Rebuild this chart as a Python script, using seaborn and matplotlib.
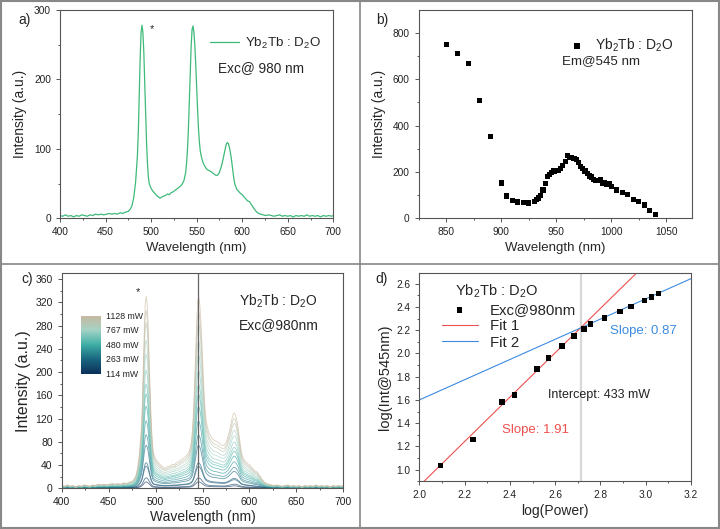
import numpy as np
import pandas as pd
import seaborn as sns
import matplotlib.pyplot as plt
from matplotlib.colors import LinearSegmentedColormap
from matplotlib.ticker import MultipleLocator
from matplotlib.patches import Rectangle

# a) emission spectrum, Exc@980 nm
wl_a = [400, 403, 406, 409, 412, 415, 418, 421, 424, 427, 430, 433, 436, 439, 442, 445, 448, 451,
        454, 457, 460, 463, 466, 469, 472, 475, 477, 479, 481, 483, 485, 486, 487, 488, 489, 490,
        491, 492, 493, 494, 495, 496, 497, 498, 500, 502, 504, 506, 508, 510, 512, 514, 516, 518,
        520, 522, 524, 526, 528, 530, 532, 534, 536, 538, 539, 540, 541, 542, 543, 544, 545, 546,
        547, 548, 549, 550, 551, 552, 553, 554, 555, 557, 559, 561, 563, 565, 567, 569, 571, 573,
        575, 577, 579, 581, 582, 583, 584, 585, 586, 587, 588, 589, 590, 591, 592, 594, 596, 598,
        600, 602, 604, 606, 608, 610, 612, 614, 616, 618, 620, 623, 626, 629, 632, 635, 638, 641,
        644, 647, 650, 653, 656, 659, 662, 665, 668, 671, 674, 677, 680, 683, 686, 689, 692, 695,
        698, 700]
int_a = [4, 3, 5, 3, 4, 2, 4, 3, 5, 4, 3, 5, 4, 6, 5, 6, 5, 6,
         7, 6, 7, 6, 8, 7, 9, 10, 13, 18, 30, 52, 90, 125, 175, 230, 268, 278,
         268, 240, 195, 150, 110, 80, 60, 50, 43, 39, 36, 33, 31, 29, 31, 32, 33, 35,
         34, 37, 38, 40, 42, 44, 46, 49, 54, 66, 80, 100, 130, 168, 210, 248, 272, 277,
         268, 250, 222, 190, 158, 130, 110, 97, 90, 80, 75, 71, 69, 68, 66, 64, 62, 62,
         66, 74, 85, 98, 104, 108, 109, 107, 102, 95, 87, 76, 66, 56, 49, 42, 39, 36,
         34, 31, 28, 25, 24, 20, 16, 12, 9, 7, 6, 5, 4, 5, 4, 3, 4, 5,
         3, 4, 3, 4, 2, 4, 3, 4, 3, 5, 3, 4, 3, 4, 2, 4, 3, 4,
         3, 4]

# b) excitation spectrum, Em@545 nm
wl_b = [850, 860, 870, 880, 890, 900, 905, 910, 915, 920, 925,
        930, 932, 934, 936, 938, 940, 942, 944, 946, 948, 950, 952, 954, 956, 958, 960,
        962, 964, 966, 968, 970, 972, 974, 976, 978, 980, 982, 984, 986, 988, 990, 992,
        994, 996, 998, 1000, 1005, 1010, 1015, 1020, 1025, 1030, 1035, 1040]
int_b = [751, 709, 666, 507, 352, 152, 96, 78, 70, 67, 66,
         72, 80, 88, 100, 122, 150, 180, 188, 198, 204, 207, 205, 214, 226, 245, 270,
         262, 262, 258, 252, 240, 222, 216, 204, 192, 182, 178, 166, 162, 164, 168, 150,
         155, 145, 148, 138, 122, 111, 101, 82, 73, 57, 35, 17]

# c) power series: intensity @545 nm of each curve, colorbar labels
peak_c = [11, 18, 38, 44, 74, 92, 116, 141, 162, 179, 203, 230, 254, 284, 305, 329]
cbar_labels = ['114 mW', '263 mW', '480 mW', '767 mW', '1128 mW']
cbar_colors = ['#0c2f5a', '#1a6680', '#3fb0a6', '#a6d3c6', '#c9b79e']

# d) log-log power dependence
log_p = [2.093, 2.236, 2.364, 2.420, 2.520, 2.571, 2.629, 2.682, 2.726, 2.755,
         2.818, 2.886, 2.936, 2.994, 3.025, 3.056]
log_i = [1.034, 1.259, 1.583, 1.641, 1.868, 1.963, 2.063, 2.149, 2.210, 2.253,
         2.307, 2.362, 2.405, 2.454, 2.485, 2.517]
fit1 = (1.91, -2.96)
fit2 = (0.87, -0.14)
cross_x = 2.715

GREEN = '#3dba79'
RED = '#ee4f4f'
BLUE = '#3d8be0'

sns.set_style('ticks')
plt.rcParams['font.family'] = ['Liberation Sans', 'DejaVu Sans']
plt.rcParams['mathtext.fontset'] = 'custom'
plt.rcParams['mathtext.rm'] = 'Liberation Sans'
plt.rcParams['mathtext.default'] = 'regular'

NAME = 'Yb$_2$Tb : D$_2$O'

fig = plt.figure(figsize=(7.2, 5.29), dpi=100)


def style(ax, fs):
    for s in ax.spines.values():
        s.set_color('#555555')
        s.set_linewidth(0.8)
    ax.tick_params(which='both', direction='out', colors='#555555', labelcolor='#222222',
                   labelsize=fs, width=0.7)
    ax.tick_params(which='major', length=3)
    ax.tick_params(which='minor', length=1.6)


# ---- a)
ax = fig.add_axes([0.0833, 0.5873, 0.3796, 0.3938])
sns.lineplot(x=wl_a, y=int_a, color=GREEN, lw=0.9, ax=ax, label=NAME)
ax.set_xlim(400, 700)
ax.set_ylim(0, 300)
ax.xaxis.set_major_locator(MultipleLocator(50))
ax.xaxis.set_minor_locator(MultipleLocator(25))
ax.yaxis.set_major_locator(MultipleLocator(100))
ax.yaxis.set_minor_locator(MultipleLocator(50))
ax.set_xlabel('Wavelength (nm)', fontsize=9.5, labelpad=3)
ax.set_ylabel('Intensity (a.u.)', fontsize=10, labelpad=5)
style(ax, 7.3)
ax.legend(loc='upper left', bbox_to_anchor=(0.53, 0.9), frameon=False, fontsize=9.6,
          handlelength=2.2, handletextpad=0.4, borderaxespad=0)
ax.text(0.58, 0.7, 'Exc@ 980 nm', transform=ax.transAxes, fontsize=9.8)
ax.text(500.5, 268, '*', fontsize=8, ha='center')
fig.text(0.025, 0.955, 'a)', fontsize=10)

# ---- b)
ax = fig.add_axes([0.5815, 0.5873, 0.3792, 0.3938])
sns.scatterplot(x=wl_b, y=int_b, marker='s', s=14, color='black', edgecolor='none',
                ax=ax, label=NAME)
ax.set_xlim(825, 1073)
ax.set_ylim(0, 898)
ax.xaxis.set_major_locator(MultipleLocator(50))
ax.xaxis.set_minor_locator(MultipleLocator(25))
ax.yaxis.set_major_locator(MultipleLocator(200))
ax.yaxis.set_minor_locator(MultipleLocator(100))
ax.set_xlabel('Wavelength (nm)', fontsize=9.5, labelpad=3)
ax.set_ylabel('Intensity (a.u.)', fontsize=10, labelpad=5)
style(ax, 7.3)
ax.legend(loc='upper left', bbox_to_anchor=(0.51, 0.9), frameon=False, fontsize=10,
          handletextpad=0.3, borderaxespad=0, markerscale=1.2)
ax.text(0.525, 0.74, 'Em@545 nm', transform=ax.transAxes, fontsize=9.6)
fig.text(0.522, 0.955, 'b)', fontsize=10)

# ---- c)
ax = fig.add_axes([0.0857, 0.0769, 0.3911, 0.4065])
cmap = LinearSegmentedColormap.from_list('pw', cbar_colors)
base = np.array(int_a) / 277.0
rows = []
for i, pk in enumerate(peak_c):
    rows.append(pd.DataFrame({'wl': wl_a, 'I': base * pk, 'level': i}))
df_c = pd.concat(rows)
pal = [cmap(i / (len(peak_c) - 1)) for i in range(len(peak_c))]
sns.lineplot(data=df_c, x='wl', y='I', hue='level', palette=pal, lw=0.6, alpha=0.65,
             estimator=None, legend=False, ax=ax)
ax.axvline(545, color='#666666', lw=0.9)
ax.set_xlim(400, 700)
ax.set_ylim(0, 370)
ax.xaxis.set_major_locator(MultipleLocator(50))
ax.xaxis.set_minor_locator(MultipleLocator(25))
ax.yaxis.set_major_locator(MultipleLocator(40))
ax.yaxis.set_minor_locator(MultipleLocator(20))
ax.set_xlabel('Wavelength (nm)', fontsize=10, labelpad=2)
ax.set_ylabel('Intensity (a.u.)', fontsize=11.5, labelpad=3)
style(ax, 7.5)
ax.text(0.63, 0.85, NAME, transform=ax.transAxes, fontsize=10)
ax.text(0.63, 0.74, 'Exc@980nm', transform=ax.transAxes, fontsize=10)
ax.text(481, 332, '*', fontsize=8, ha='center')
cax = ax.inset_axes([0.068, 0.53, 0.07, 0.27])
grad = np.linspace(0, 1, 256).reshape(-1, 1)
cax.imshow(grad, cmap=cmap, aspect='auto', origin='lower', extent=(0, 1, 0, 4))
cax.set_xticks([])
cax.set_yticks([])
for s in cax.spines.values():
    s.set_visible(False)
for k, lab in enumerate(cbar_labels):
    cax.text(1.3, k, lab, fontsize=6.3, va='center', ha='left', color='#222222')
fig.text(0.03, 0.465, 'c)', fontsize=10)

# ---- d)
ax = fig.add_axes([0.5824, 0.0902, 0.3774, 0.3932])
xs = np.array([2.0, 3.2])
ax.axvline(cross_x, color='#d8d8d8', lw=1.6, zorder=0)
sns.lineplot(x=xs, y=fit1[0] * xs + fit1[1], color=RED, lw=0.8, ax=ax, label='Fit 1')
sns.lineplot(x=xs, y=fit2[0] * xs + fit2[1], color=BLUE, lw=0.8, ax=ax, label='Fit 2')
sns.scatterplot(x=log_p, y=log_i, marker='s', s=16, color='black', edgecolor='none',
                ax=ax, label='Exc@980nm', zorder=3)
ax.set_xlim(2.0, 3.2)
ax.set_ylim(0.9, 2.69)
ax.xaxis.set_major_locator(MultipleLocator(0.2))
ax.xaxis.set_minor_locator(MultipleLocator(0.1))
ax.yaxis.set_major_locator(MultipleLocator(0.2))
ax.yaxis.set_minor_locator(MultipleLocator(0.1))
ax.xaxis.set_major_formatter('{x:.1f}')
ax.yaxis.set_major_formatter('{x:.1f}')
ax.set_xlabel('log(Power)', fontsize=10, labelpad=3)
ax.set_ylabel('log(Int@545nm)', fontsize=10.5, labelpad=3)
style(ax, 7.3)
h, l = ax.get_legend_handles_labels()
order = [l.index('Exc@980nm'), l.index('Fit 1'), l.index('Fit 2')]
ax.legend([h[i] for i in order], [l[i] for i in order], loc='upper left',
          bbox_to_anchor=(0.06, 0.885), frameon=False, fontsize=10.8, handlelength=2.4,
          handletextpad=0.8, labelspacing=0.15, borderaxespad=0)
ax.text(0.13, 0.895, NAME, transform=ax.transAxes, fontsize=10.5)
ax.text(0.70, 0.71, 'Slope: 0.87', transform=ax.transAxes, fontsize=9.5, color=BLUE)
ax.text(0.475, 0.40, 'Intercept: 433 mW', transform=ax.transAxes, fontsize=9,
        color='#222222')
ax.text(0.305, 0.23, 'Slope: 1.91', transform=ax.transAxes, fontsize=9.5, color=RED)
fig.text(0.522, 0.465, 'd)', fontsize=10)

# panel dividers and outer frame
fig.add_artist(plt.Line2D([0.5, 0.5], [0, 1], transform=fig.transFigure,
                          color='#888888', lw=1.2))
fig.add_artist(plt.Line2D([0, 1], [0.501, 0.501], transform=fig.transFigure,
                          color='#888888', lw=1.2))
fig.add_artist(Rectangle((0.001, 0.001), 0.998, 0.998, transform=fig.transFigure,
                         fill=False, edgecolor='#888888', lw=1.5))

fig.savefig('out.png', dpi=100)
